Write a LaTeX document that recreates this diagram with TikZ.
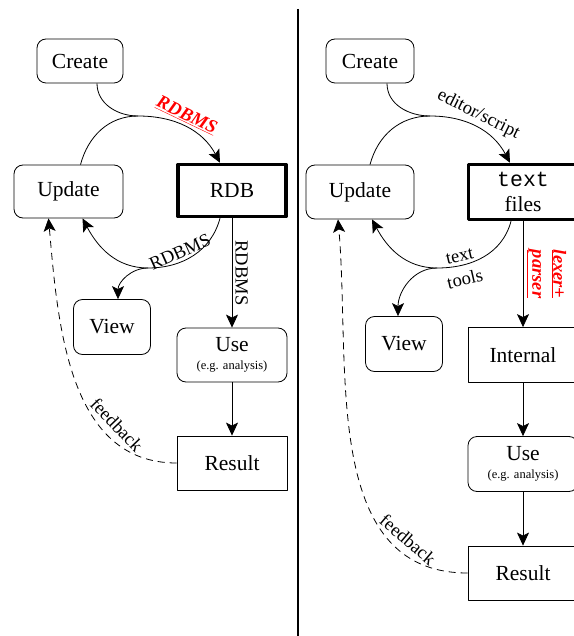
\documentclass[tikz,border=0pt]{standalone}
\usepackage{fontspec}
\setmainfont{Liberation Serif}
\setmonofont{Liberation Mono}
\usetikzlibrary{arrows.meta}
\newcommand{\redlbl}[1]{\textcolor{red}{\underline{\textbf{\textit{#1}}}}}
\begin{document}
\begin{tikzpicture}[x=1pt,y=-1pt,>={Stealth[length=13pt,width=12pt,inset=3pt]},line join=round,
		font=\fontsize{21.5}{25}\selectfont,line width=0.8pt,
		rbox/.style={draw,rounded corners=9pt,inner sep=0pt,align=center},
		sbox/.style={draw,inner sep=0pt,align=center},
		dbox/.style={draw,line width=3.5pt,inner sep=0pt,align=center},
		lbl/.style={font=\fontsize{18.5}{21}\selectfont,inner sep=3pt}]
	\useasboundingbox (0,0) rectangle (573,636);
	% left: relational database
	\node [rbox,minimum width=86pt,minimum height=44pt] (createA) at (80,61) {Create};
	\node [rbox,minimum width=109pt,minimum height=53pt] (updateA) at (68.5,191.5) {Update};
	\node [dbox,minimum width=108pt,minimum height=52pt] (rdb) at (232,190.5) {RDB};
	\node [rbox,minimum width=77pt,minimum height=55pt] (viewA) at (112,327) {View};
	\node [rbox,minimum width=110pt,minimum height=54pt] (useA) at (232,355) {Use\\[-7pt]\fontsize{12.5}{14}\selectfont(e.g. analysis)};
	\node [sbox,minimum width=110pt,minimum height=54pt] (resultA) at (232,463) {Result};
	\coordinate (topA) at (138,116);
	\coordinate (midA) at (148,268);
	\draw ([xshift=17pt]createA.south) to[out=-90,in=180] (topA);
	\draw [->] ([xshift=12pt]updateA.north) to[out=75,in=180] (topA)
		to[out=0,in=118] node[lbl,pos=0.45,sloped,above] {\redlbl{RDBMS}} ([xshift=-12pt]rdb.north);
	\draw ([xshift=-12pt]rdb.south) to[out=-105,in=0] node[lbl,pos=0.62,sloped,above] {RDBMS} (midA);
	\draw [->] (midA) to[out=180,in=-62] ([xshift=14pt]updateA.south);
	\draw [->] (midA) to[out=180,in=90] ([xshift=6pt]viewA.north);
	\draw [->] (rdb) -- node[lbl,sloped,above] {RDBMS} (useA);
	\draw [->] (useA) -- (resultA);
	\draw [->,dash pattern=on 7pt off 5pt] (resultA.west) to[out=180,in=-85]
		node[lbl,pos=0.28,sloped,above,inner sep=7pt] {feedback} ([xshift=-20pt]updateA.south);
	% divider
	\draw [line width=2pt] (298,9) -- (298,640);
	% right: text files
	\node [rbox,minimum width=88pt,minimum height=44pt] (createB) at (370,61) {Create};
	\node [rbox,minimum width=108pt,minimum height=54pt] (updateB) at (360,192) {Update};
	\node [dbox,minimum width=109pt,minimum height=55pt] (txt) at (523,192) {\texttt{text}\\files};
	\node [rbox,minimum width=77pt,minimum height=55pt] (viewB) at (404,344) {View};
	\node [sbox,minimum width=110pt,minimum height=55pt] (internal) at (523,355) {Internal};
	\node [rbox,minimum width=110pt,minimum height=55pt] (useB) at (523,464) {Use\\[-7pt]\fontsize{12.5}{14}\selectfont(e.g. analysis)};
	\node [sbox,minimum width=110pt,minimum height=54pt] (resultB) at (523,573) {Result};
	\coordinate (topB) at (430,116);
	\coordinate (midB) at (437,268);
	\draw ([xshift=17pt]createB.south) to[out=-90,in=180] (topB);
	\draw [->] ([xshift=10pt]updateB.north) to[out=75,in=180] (topB)
		to[out=0,in=118] node[lbl,pos=0.45,sloped,above] {editor/script} ([xshift=-13pt]txt.north);
	\draw ([xshift=-12pt]txt.south) to[out=-105,in=0]
		node[lbl,pos=0.75,sloped,above] {text} node[lbl,pos=0.75,sloped,below,inner sep=7pt] {tools} (midB);
	\draw [->] (midB) to[out=180,in=-62] ([xshift=12pt]updateB.south);
	\draw [->] (midB) to[out=180,in=90] ([xshift=-6pt]viewB.north);
	\draw [->] (txt) -- node[lbl,sloped,above,align=center] {\redlbl{lexer+}\\\redlbl{parser}} (internal);
	\draw [->] (internal) -- (useB);
	\draw [->] (useB) -- (resultB);
	\draw [->,dash pattern=on 7pt off 5pt] (resultB.west) to[out=180,in=-85]
		node[lbl,pos=0.2,sloped,above,inner sep=7pt] {feedback} ([xshift=-22pt]updateB.south);
\end{tikzpicture}
\end{document}
